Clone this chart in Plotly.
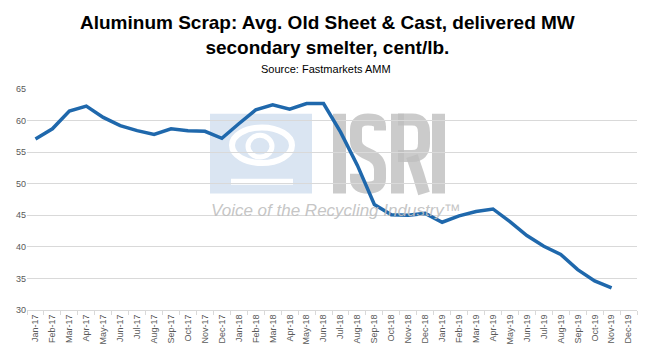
import plotly.graph_objects as go

months = ["Jan-17","Feb-17","Mar-17","Apr-17","May-17","Jun-17","Jul-17","Aug-17","Sep-17","Oct-17","Nov-17","Dec-17",
          "Jan-18","Feb-18","Mar-18","Apr-18","May-18","Jun-18","Jul-18","Aug-18","Sep-18","Oct-18","Nov-18","Dec-18",
          "Jan-19","Feb-19","Mar-19","Apr-19","May-19","Jun-19","Jul-19","Aug-19","Sep-19","Oct-19","Nov-19","Dec-19"]
prices = [57.1, 58.7, 61.5, 62.3, 60.5, 59.2, 58.4, 57.8, 58.7, 58.4, 58.3, 57.2,
          59.5, 61.7, 62.5, 61.8, 62.7, 62.7, 58.2, 52.9, 46.7, 45.1, 45.0, 45.3,
          43.9, 44.9, 45.6, 46.0, 44.0, 41.8, 40.1, 38.8, 36.4, 34.6, 33.5, None]
y_ticks = [30, 35, 40, 45, 50, 55, 60, 65]

W, H = 650, 357
L, R, T, B = 27, 13, 89, 44

def px(x):
    return (x - L) / (W - L - R)

def py(y):
    return (H - B - y) / (H - T - B)

fig = go.Figure()
fig.add_trace(go.Scatter(
    x=months, y=prices, mode="lines",
    line=dict(color="#1F68AC", width=3.5),
    connectgaps=False, hoverinfo="x+y", showlegend=False,
))

shapes = []
shapes.append(dict(type="rect", xref="paper", yref="paper",
                   x0=px(210), x1=px(312), y0=py(195), y1=py(114),
                   fillcolor="rgba(205,220,238,0.75)", line=dict(width=0), layer="between"))
shapes.append(dict(type="circle", xref="paper", yref="paper",
                   x0=px(232), x1=px(292), y0=py(164), y1=py(128),
                   line=dict(color="white", width=6), layer="between"))
shapes.append(dict(type="circle", xref="paper", yref="paper",
                   x0=px(248), x1=px(272), y0=py(158), y1=py(136),
                   line=dict(color="white", width=5), layer="between"))
shapes.append(dict(type="rect", xref="paper", yref="paper",
                   x0=px(231), x1=px(293), y0=py(186), y1=py(180),
                   fillcolor="white", line=dict(width=0), layer="between"))
grey = "rgba(190,190,190,0.8)"
shapes.append(dict(type="rect", xref="paper", yref="paper",
                   x0=px(333), x1=px(346), y0=py(195), y1=py(114),
                   fillcolor=grey, line=dict(width=0), layer="between"))
shapes.append(dict(type="rect", xref="paper", yref="paper",
                   x0=px(432), x1=px(445), y0=py(195), y1=py(114),
                   fillcolor=grey, line=dict(width=0), layer="between"))
shapes.append(dict(type="rect", xref="paper", yref="paper",
                   x0=px(391), x1=px(404), y0=py(195), y1=py(114),
                   fillcolor=grey, line=dict(width=0), layer="between"))

def path(points_cmds):
    out = []
    for c in points_cmds:
        if isinstance(c, str):
            out.append(c)
        else:
            out.append(f"{px(c[0]):.5f},{py(c[1]):.5f}")
    return " ".join(out)

s_path = path(["M", (380, 131), "L", (380, 127), "Q", (380, 120), (368, 120), "Q", (356, 120), (356, 130),
               "L", (356, 142), "Q", (356, 150), (368, 155), "Q", (380, 160), (380, 170),
               "L", (380, 180), "Q", (380, 189), (368, 189), "Q", (356, 189), (356, 180), "L", (356, 175)])
shapes.append(dict(type="path", xref="paper", yref="paper", path=s_path,
                   line=dict(color=grey, width=12), layer="between"))
r_path = path(["M", (398, 120), "L", (412, 120), "Q", (424, 120), (424, 133), "L", (424, 144),
               "Q", (424, 157), (412, 157), "L", (398, 157)])
shapes.append(dict(type="path", xref="paper", yref="paper", path=r_path,
                   line=dict(color=grey, width=12), layer="between"))
leg_path = path(["M", (412, 157), "L", (418, 175), "L", (424, 195)])
shapes.append(dict(type="path", xref="paper", yref="paper", path=leg_path,
                   line=dict(color=grey, width=12), layer="between"))

annotations = [
    dict(text="<b>Aluminum Scrap: Avg. Old Sheet &amp; Cast, delivered MW</b><br><b>secondary smelter, cent/lb.</b>",
         xref="paper", yref="paper", x=px(327), y=py(34), xanchor="center", yanchor="middle",
         showarrow=False, font=dict(family="Liberation Sans Narrow, Arial Narrow, sans-serif", size=19, color="black"),
         align="center"),
    dict(text="Source: Fastmarkets AMM", xref="paper", yref="paper", x=px(326), y=py(69),
         xanchor="center", yanchor="middle", showarrow=False,
         font=dict(family="Liberation Sans Narrow, Arial Narrow, sans-serif", size=11, color="black")),
    dict(text="<i>Voice of the Recycling Industry™</i>", xref="paper", yref="paper",
         x=px(209), y=py(212), xanchor="left", yanchor="middle", showarrow=False,
         font=dict(family="Liberation Sans, Arial, sans-serif", size=17, color="rgba(190,190,190,0.9)")),
]

fig.update_layout(
    width=W, height=H,
    margin=dict(l=L, r=R, t=T, b=B, pad=0),
    paper_bgcolor="white", plot_bgcolor="white",
    shapes=shapes, annotations=annotations,
    showlegend=False,
    xaxis=dict(type="category", tickangle=-90, showgrid=False, showline=True, linecolor="#D9D9D9",
               linewidth=1, ticks="outside", tickson="boundaries", ticklen=4, tickcolor="#D9D9D9",
               tickfont=dict(family="Liberation Sans Narrow, Arial Narrow, sans-serif", size=9, color="#595959"),
               range=[-0.5, 35.5], fixedrange=True),
    yaxis=dict(range=[30, 65], tickvals=y_ticks, showgrid=True, gridcolor="#D9D9D9", gridwidth=1,
               zeroline=False, showline=False, ticks="",
               tickfont=dict(family="Liberation Sans Narrow, Arial Narrow, sans-serif", size=9, color="#595959"),
               fixedrange=True),
)

fig.write_html("out.html", config={"displayModeBar": False},
               post_script="document.body.style.margin='0';document.body.style.padding='0';")
